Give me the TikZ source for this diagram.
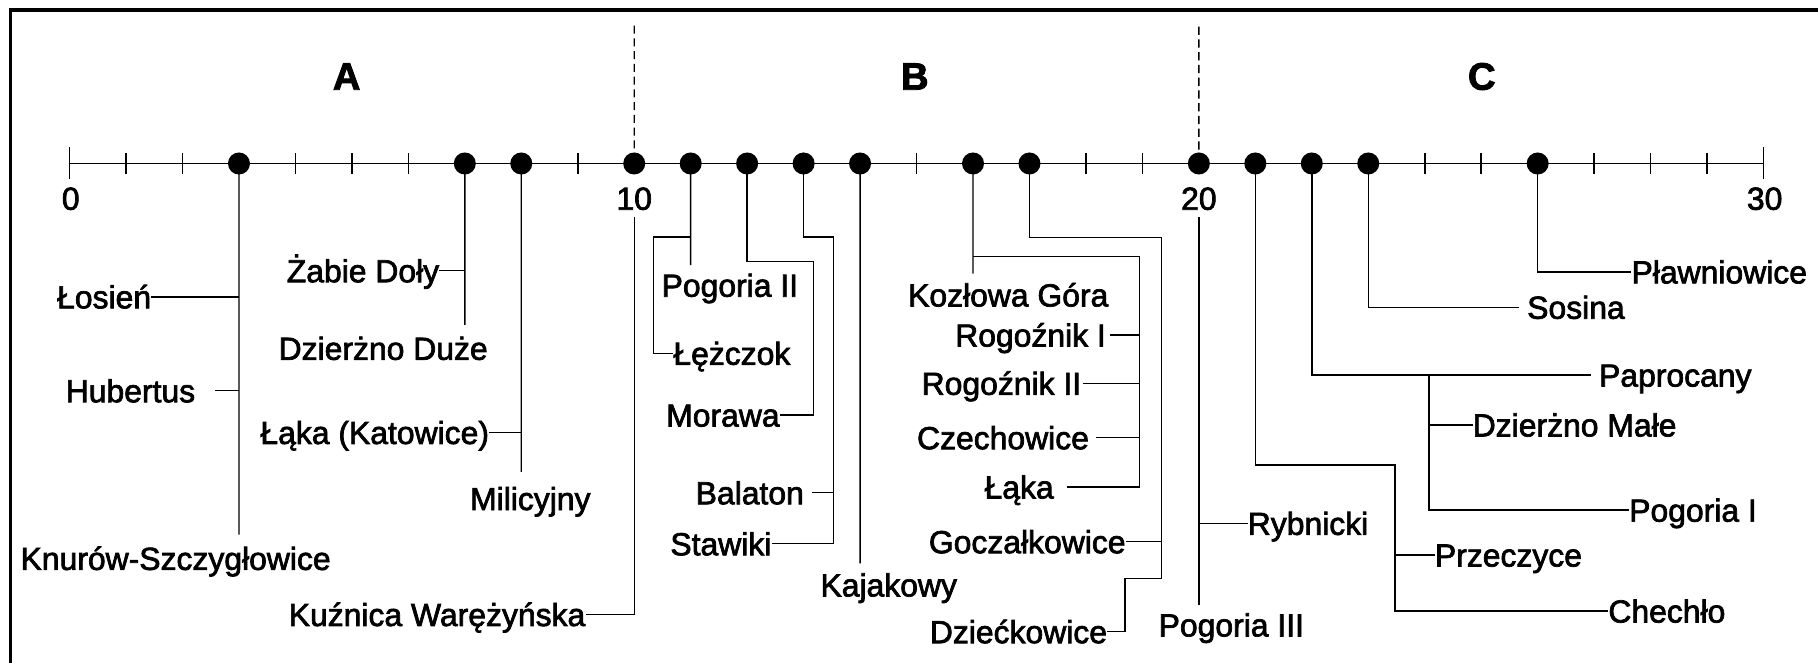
\documentclass[tikz,border=0pt]{standalone}
\usepackage{fontspec}
\setmainfont{Liberation Sans}[FakeBold=2.2]
\begin{document}
\begin{tikzpicture}[x=1pt,y=-1pt,
  conn/.style={line width=1.2pt},
  axisline/.style={line width=1.7pt},
  tickline/.style={line width=1.4pt},
  dot/.style={circle,fill=black,inner sep=0pt,minimum size=19pt},
  lab/.style={font=\fontsize{27.5}{30}\selectfont,inner xsep=0pt,inner ysep=0pt,text height=19.8pt,text depth=0pt},
  zone/.style={font=\fontsize{33}{36}\selectfont\bfseries,inner sep=0pt},
  divider/.style={line width=1.2pt,dash pattern=on 7pt off 4pt},
  frame/.style={line width=2.8pt}]
\useasboundingbox (0,0) rectangle (1568,571);
% frame
\coordinate (fTL) at (9,8.6);
\coordinate (fTR) at (1572,8.6);
\coordinate (fBL) at (9,575);
\draw[frame] (fBL) -- (fTL) -- (fTR);
% dot positions
\foreach \n in {3,7,8,10,11,12,13,14,16,17,20,21,22,23,26}
  \coordinate (d\n) at ({60+\n*48.7},141);
% axis
\coordinate (a0) at (60,141);
\coordinate (a30) at (1521,141);
\draw[axisline] (a0) -- (a30);
\foreach \i in {1,...,29}
  \draw[tickline] ({60+\i*48.7},132) -- ({60+\i*48.7},150);
\draw[tickline] (60,127) -- (60,154);
\draw[tickline] (1521,127) -- (1521,154);
% numbers
\node[lab] (n0) at (61,171) {0};
\node[lab] (n10) at (547,171) {10};
\node[lab] (n20) at (1034,171) {20};
\node[lab] (n30) at (1522,171) {30};
% zones
\node[zone] (zA) at (299,66) {A};
\node[zone] (zB) at (789,66) {B};
\node[zone] (zC) at (1278,66) {C};
\coordinate (t10) at (547,22);
\coordinate (t20) at (1034,23);
\draw[divider] (t10) -- (d10);
\draw[divider] (t20) -- (d20);

% ---- dot 3
\coordinate (e3) at (206.1,461);
\draw[conn] (d3) -- (e3);
\node[lab,anchor=east] (losien) at (130.5,256) {Łosień};
\draw[conn] (losien.east) -- (losien.east -| d3);
\node[lab,anchor=east] (hubertus) at (168.5,337) {Hubertus};
\draw[conn] ([xshift=17pt]hubertus.east) -- (hubertus.east -| d3);
\node[lab] (knurow) at (151.5,481.6) {Knurów-Szczygłowice};

% ---- dot 7
\coordinate (e7) at (400.9,280.3);
\draw[conn] (d7) -- (e7);
\node[lab,anchor=east] (zabie) at (379,233.5) {Żabie Doły};
\draw[conn] (zabie.east) -- (zabie.east -| d7);
\node[lab] (dduze) at (330.5,300.4) {Dzierżno Duże};

% ---- dot 8
\coordinate (e8) at (449.6,407);
\draw[conn] (d8) -- (e8);
\node[lab,anchor=east] (lakakat) at (422,373) {Łąka (Katowice)};
\draw[conn] (lakakat.east) -- (lakakat.east -| d8);
\node[lab] (milicyjny) at (457.4,430) {Milicyjny};

% ---- dot 10
\coordinate (c10) at (547,187);
\node[lab,anchor=east] (kuznica) at (505,530) {Kuźnica Warężyńska};
\draw[conn] (c10) |- (kuznica.east);

% ---- dot 11
\coordinate (e11) at (595.7,228.6);
\draw[conn] (d11) -- (e11);
\node[lab] (pogoria2) at (629.5,246) {Pogoria II};
\coordinate (b11) at (595.7,204.5);
\coordinate (k11) at (563.6,204.5);
\node[lab,anchor=west] (lezczok) at (580.6,304.7) {Łężczok};
\draw[conn] (b11) -- (k11) |- (lezczok.west);

% ---- dot 12
\coordinate (k12) at (701.7,225.7);
\node[lab,anchor=east] (morawa) at (672.6,358) {Morawa};
\draw[conn] (d12) |- (k12) |- (morawa.east);

% ---- dot 13
\coordinate (k13) at (719,204.3);
\node[lab,anchor=east] (stawiki) at (665.5,469) {Stawiki};
\draw[conn] (d13) |- (k13) |- (stawiki.east);
\node[lab,anchor=east] (balaton) at (693.5,425) {Balaton};
\draw[conn] ([xshift=6.5pt]balaton.east) -- (balaton.east -| k13);

% ---- dot 14
\coordinate (e14) at (741.8,486);
\draw[conn] (d14) -- (e14);
\node[lab] (kajakowy) at (766.5,504.5) {Kajakowy};

% ---- dot 16
\coordinate (e16) at (839.2,236);
\draw[conn] (d16) -- (e16);
\node[lab] (kozlowa) at (869.6,254.4) {Kozłowa Góra};
\coordinate (b16) at (839.2,221.4);
\coordinate (k16) at (983,221.4);
\node[lab,anchor=east] (laka) at (909,420) {Łąka};
\draw[conn] (b16) -- (k16) |- ([xshift=11pt]laka.east);
\node[lab,anchor=east] (rog1) at (954,289) {Rogoźnik I};
\draw[conn] ([xshift=3.5pt]rog1.east) -- (rog1.east -| k16);
\node[lab,anchor=east] (rog2) at (932.7,330.6) {Rogoźnik II};
\draw[conn] ([xshift=1.5pt]rog2.east) -- (rog2.east -| k16);
\node[lab,anchor=east] (czech) at (939.4,377.5) {Czechowice};
\draw[conn] ([xshift=5.5pt]czech.east) -- (czech.east -| k16);

% ---- dot 17
\coordinate (k17) at (1001.8,204.7);
\coordinate (s17) at (970.4,498.8);
\node[lab,anchor=east] (dziec) at (955,544.8) {Dziećkowice};
\draw[conn] (d17) |- (k17) |- (s17) |- (dziec.east);
\node[lab,anchor=east] (gocz) at (971,467.2) {Goczałkowice};
\draw[conn] (gocz.east) -- (gocz.east -| k17);

% ---- dot 20
\coordinate (c20) at (1034,187);
\coordinate (e20) at (1034,522);
\draw[conn] (c20) -- (e20);
\node[lab] (pogoria3) at (1062,539) {Pogoria III};
\node[lab,anchor=west] (rybnicki) at (1076,451.4) {Rybnicki};
\draw[conn] (rybnicki.west) -- (rybnicki.west -| c20);

% ---- dot 21
\coordinate (k21) at (1203.3,401);
\node[lab,anchor=west] (chechlo) at (1387,527) {Chechło};
\draw[conn] (d21) |- (k21) |- (chechlo.west);
\node[lab,anchor=west] (przeczyce) at (1237.4,478.7) {Przeczyce};
\draw[conn] (przeczyce.west) -- (przeczyce.west -| k21);

% ---- dot 22
\node[lab,anchor=west] (paprocany) at (1379,323.5) {Paprocany};
\draw[conn] (d22) |- ([xshift=-7pt]paprocany.west);
\coordinate (b22) at (1232.6,323.5);
\node[lab,anchor=west] (pogoria1) at (1405,440) {Pogoria I};
\draw[conn] (b22) |- (pogoria1.west);
\node[lab,anchor=west] (dmale) at (1270,366.5) {Dzierżno Małe};
\draw[conn] (dmale.west) -- (dmale.west -| b22);

% ---- dot 23
\node[lab,anchor=west] (sosina) at (1317,265) {Sosina};
\draw[conn] (d23) |- ([xshift=-7pt]sosina.west);

% ---- dot 26
\node[lab,anchor=west] (plaw) at (1407,234.5) {Pławniowice};
\draw[conn] (d26) |- (plaw.west);

% dots on top
\foreach \n in {3,7,8,10,11,12,13,14,16,17,20,21,22,23,26}
  \node[dot] (p\n) at (d\n) {};
\end{tikzpicture}
\end{document}
